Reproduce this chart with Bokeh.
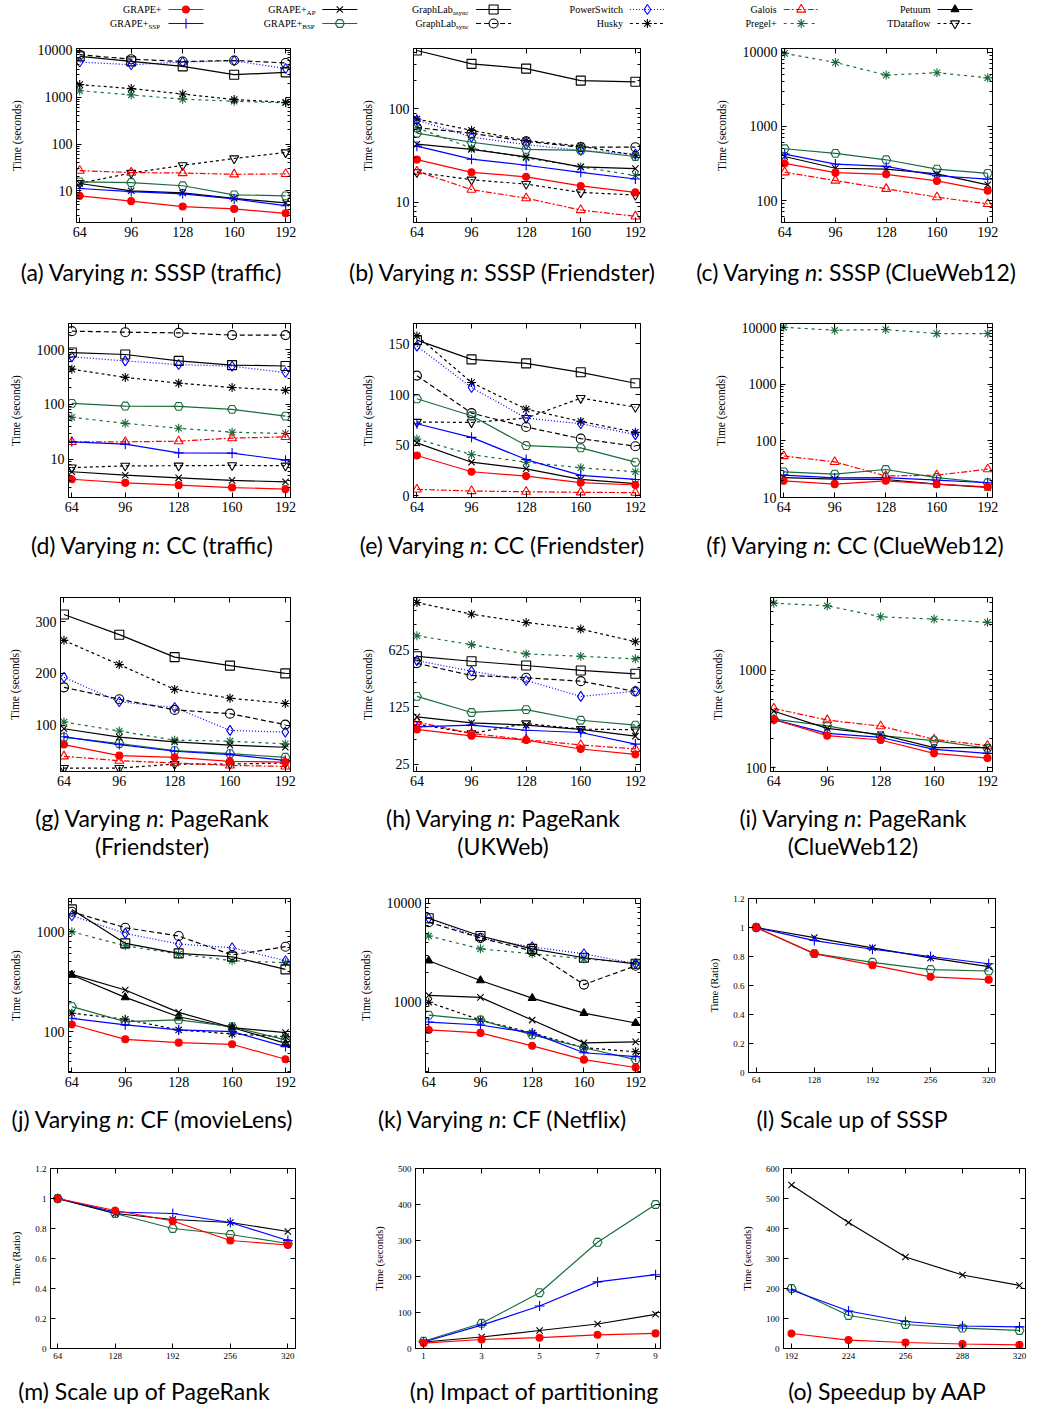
import math
from bokeh.plotting import figure
from bokeh.layouts import column, row
from bokeh.models import Range1d, FixedTicker, LinearAxis, LogAxis, Div, CustomJSTickFormatter
from bokeh.embed import file_html
from bokeh.resources import INLINE
from bokeh.core.properties import value

# ---------------- data ----------------
X_N = [64, 96, 128, 160, 192]
X_SCALE = [64, 128, 192, 256, 320]
X_PART = [1, 3, 5, 7, 9]
X_AAP = [192, 224, 256, 288, 320]

SSSP_TRAFFIC = {
    "GRAPE+": [7.8, 6.0, 4.6, 4.1, 3.3],
    "GRAPE+SSP": [11.2, 9.6, 8.6, 6.7, 4.8],
    "GRAPE+AP": [14.3, 10.0, 9.0, 6.9, 5.5],
    "GRAPE+BSP": [15.5, 15.0, 12.8, 8.2, 7.8],
    "GraphLab_async": [7450, 5840, 4570, 3030, 3400],
    "GraphLab_sync": [8100, 6500, 5800, 6100, 5400],
    "PowerSwitch": [5650, 4950, 5650, 6000, 4100],
    "Husky": [1860, 1530, 1170, 890, 780],
    "Galois": [27, 24.5, 24, 22.5, 23],
    "Pregel+": [1380, 1120, 910, 820, 760],
    "TDataflow": [14.5, 24, 35, 49, 66],
}
SSSP_FRIENDSTER = {
    "GRAPE+": [28.7, 21, 18.8, 15, 12.8],
    "GRAPE+SSP": [40, 29, 25, 21, 17.8],
    "GRAPE+AP": [42, 37, 30.7, 24, 23],
    "GRAPE+BSP": [55, 44, 37, 36, 31],
    "GraphLab_async": [422, 303, 270, 201, 195],
    "GraphLab_sync": [63, 55, 45, 39, 39],
    "PowerSwitch": [76, 50, 41.5, 36, 33],
    "Husky": [78, 59, 46, 40, 32],
    "Galois": [21.5, 13.7, 11.1, 8.3, 7.1],
    "Pregel+": [63, 38, 30, 24, 19.4],
    "TDataflow": [21, 17.5, 15.7, 12.8, 12],
}
SSSP_CLUEWEB = {
    "GRAPE+": [318, 238, 226, 184, 136],
    "GRAPE+SSP": [424, 311, 289, 216, 194],
    "GRAPE+AP": [393, 273, 265, 229, 163],
    "GRAPE+BSP": [500, 433, 355, 265, 233],
    "Galois": [241, 186, 144, 111, 90],
    "Pregel+": [9700, 7330, 4940, 5320, 4540],
}
CC_TRAFFIC = {
    "GRAPE+": [4.3, 3.7, 3.36, 3.04, 2.84],
    "GRAPE+SSP": [20.7, 18.8, 13, 12.9, 9.6],
    "GRAPE+AP": [5.9, 5.1, 4.57, 4.1, 3.86],
    "GRAPE+BSP": [104, 93, 92, 81, 61],
    "GraphLab_async": [880, 810, 620, 520, 500],
    "GraphLab_sync": [2160, 2070, 2010, 1830, 1830],
    "PowerSwitch": [735, 620, 532, 496, 380],
    "Husky": [438, 310, 243, 203, 180],
    "Galois": [20.7, 20.7, 21.3, 24.2, 25.5],
    "Pregel+": [58, 45, 36.6, 31, 29.4],
    "TDataflow": [7.0, 7.55, 7.6, 7.7, 7.6],
}
CC_FRIENDSTER = {
    "GRAPE+": [39.9, 23.9, 19.6, 13.1, 10.8],
    "GRAPE+SSP": [71.2, 57.8, 35.9, 20.3, 16.3],
    "GRAPE+AP": [52.3, 33.3, 26.8, 16.3, 12.1],
    "GRAPE+BSP": [95.8, 79.1, 49.7, 47.4, 33.3],
    "GraphLab_async": [153.6, 134.6, 130.7, 121.9, 111.1],
    "GraphLab_sync": [118.6, 81.7, 68, 56.5, 49],
    "PowerSwitch": [147.7, 106.9, 76.8, 71.2, 60.5],
    "Husky": [157.8, 111.8, 85.6, 73.5, 62.7],
    "Galois": [6.5, 4.9, 4.2, 3.6, 3.3],
    "Pregel+": [56.2, 40.8, 33.3, 27.8, 23.9],
    "TDataflow": [72.9, 72.5, 76.8, 96.4, 87.6],
}
CC_CLUEWEB = {
    "GRAPE+": [19.7, 17.2, 19.7, 17.2, 15.4],
    "GRAPE+SSP": [24.8, 22.2, 22.5, 20.2, 18.2],
    "GRAPE+AP": [22.5, 21.1, 20.8, 17.2, 15],
    "GRAPE+BSP": [28.4, 25.8, 31.2, 22.5, 18.2],
    "Galois": [54, 42.6, 24, 24.8, 31.6],
    "Pregel+": [10100, 8980, 9230, 7840, 7840],
}
PR_FRIENDSTER = {
    "GRAPE+": [62.2, 40.7, 37.5, 29.6, 28.3],
    "GRAPE+SSP": [77.2, 62.2, 49.2, 42.7, 31.6],
    "GRAPE+AP": [92.8, 76.5, 67.4, 61, 57],
    "GRAPE+BSP": [76.5, 64.2, 50.5, 44.6, 37.5],
    "GraphLab_async": [314, 275, 231.6, 215, 200],
    "GraphLab_sync": [173, 150, 129.3, 122, 100.7],
    "PowerSwitch": [192.5, 145, 134, 89.6, 86.3],
    "Husky": [264, 217, 169, 152, 141.7],
    "Galois": [39.4, 31, 26.4, 21.8, 19.9],
    "Pregel+": [105.9, 88.3, 70.7, 68.7, 63.5],
    "TDataflow": [16.6, 16.6, 24.4, 24.4, 26.4],
}
PR_UKWEB = {
    "GRAPE+": [66.4, 55.6, 49.3, 38.4, 33],
    "GRAPE+SSP": [71.5, 75, 65, 61, 44],
    "GRAPE+AP": [94.5, 80, 75, 66.4, 55],
    "GRAPE+BSP": [168, 107, 116, 86, 75],
    "GraphLab_async": [518, 451, 400, 348, 317],
    "GraphLab_sync": [426, 302, 284, 258, 193],
    "PowerSwitch": [459, 341, 263, 168, 195],
    "Husky": [2342, 1690, 1340, 1112, 781],
    "Galois": [82, 59.4, 50, 43, 38.4],
    "Pregel+": [923, 718, 554, 518, 482],
    "TDataflow": [77, 59.4, 78.5, 67, 66],
}
PR_CLUEWEB = {
    "GRAPE+": [312, 213, 192, 140, 125],
    "GRAPE+SSP": [312, 225, 204, 154, 140],
    "GRAPE+AP": [380, 253, 219, 160, 160],
    "GRAPE+BSP": [315, 269, 213, 189, 158],
    "Galois": [406, 308, 267, 195, 168],
    "Pregel+": [4930, 4630, 3570, 3380, 3130],
}
CF_MOVIELENS = {
    "GRAPE+": [118, 83.8, 77.6, 74.7, 52.9],
    "GRAPE+SSP": [136, 117, 104, 100, 70.8],
    "GRAPE+AP": [374, 261, 156, 110, 97.7],
    "GRAPE+BSP": [178, 126, 131, 112, 82.6],
    "GraphLab_async": [1672, 765, 607, 562, 420],
    "GraphLab_sync": [1585, 1096, 905, 585, 708],
    "PowerSwitch": [1445, 962, 753, 692, 513],
    "Husky": [153, 133, 104, 94.8, 89],
    "Pregel+": [1000, 724, 598, 513, 490],
    "Petuum": [369, 220, 141, 110, 76.4],
}
CF_NETFLIX = {
    "GRAPE+": [525, 490, 363, 263, 219],
    "GRAPE+SSP": [631, 589, 490, 309, 282],
    "GRAPE+AP": [1175, 1120, 661, 389, 398],
    "GRAPE+BSP": [741, 661, 468, 347, 263],
    "GraphLab_async": [7080, 4680, 3470, 2820, 2450],
    "GraphLab_sync": [6460, 4470, 3310, 1510, 2340],
    "PowerSwitch": [7080, 4470, 3630, 3090, 2450],
    "Husky": [1000, 661, 490, 347, 316],
    "Pregel+": [4680, 3470, 3090, 2750, 2510],
    "Petuum": [2630, 1660, 1100, 776, 617],
}
SCALE_SSSP = {
    "GRAPE+": [1, 0.82, 0.74, 0.66, 0.64],
    "GRAPE+SSP": [1, 0.91, 0.85, 0.80, 0.75],
    "GRAPE+AP": [1, 0.93, 0.86, 0.79, 0.73],
    "GRAPE+BSP": [1, 0.82, 0.76, 0.71, 0.70],
}
SCALE_PR = {
    "GRAPE+": [1, 0.92, 0.85, 0.72, 0.69],
    "GRAPE+SSP": [1, 0.91, 0.90, 0.84, 0.72],
    "GRAPE+AP": [1, 0.90, 0.86, 0.84, 0.78],
    "GRAPE+BSP": [1, 0.90, 0.80, 0.76, 0.70],
}
PARTITION = {
    "GRAPE+": [15, 25, 30, 38, 42],
    "GRAPE+SSP": [18, 65, 118, 185, 205],
    "GRAPE+AP": [18, 32, 50, 68, 95],
    "GRAPE+BSP": [20, 70, 155, 295, 400],
}
SPEEDUP = {
    "GRAPE+": [50, 28, 20, 15, 12],
    "GRAPE+SSP": [195, 125, 90, 75, 72],
    "GRAPE+AP": [545, 420, 305, 245, 210],
    "GRAPE+BSP": [200, 110, 80, 68, 60],
}

YT_A = [10, 100, 1000, 10000]
YT_B = [10, 100]
YT_C = [100, 1000, 10000]
YT_D = [10, 100, 1000]
YT_E = [0, 50, 100, 150]
YT_F = [10, 100, 1000, 10000]
YT_G = [100, 200, 300]
YT_H = [25, 125, 625]
YT_I = [100, 1000]
YT_J = [100, 1000]
YT_K = [1000, 10000]
YT_RATIO = [0, 0.2, 0.4, 0.6, 0.8, 1, 1.2]
YT_N = [0, 100, 200, 300, 400, 500]
YT_O = [0, 100, 200, 300, 400, 500, 600]

# legend entries: (key, main text, subscript)
LEGEND = [
    [("GRAPE+", "GRAPE+", ""), ("GRAPE+SSP", "GRAPE+", "SSP")],
    [("GRAPE+AP", "GRAPE+", "AP"), ("GRAPE+BSP", "GRAPE+", "BSP")],
    [("GraphLab_async", "GraphLab", "async"), ("GraphLab_sync", "GraphLab", "sync")],
    [("PowerSwitch", "PowerSwitch", ""), ("Husky", "Husky", "")],
    [("Galois", "Galois", ""), ("Pregel+", "Pregel+", "")],
    [("Petuum", "Petuum", ""), ("TDataflow", "TDataflow", "")],
]

# ---------------- styles ----------------
RED, BLUE, GREEN, BLACK = "#ff0000", "#0000ff", "#1a6b3c", "#000000"
STYLE = {
    "GRAPE+": dict(color=RED, dash="solid", marker="circle", fill=True, size=7),
    "GRAPE+SSP": dict(color=BLUE, dash="solid", marker="cross", fill=False, size=10),
    "GRAPE+AP": dict(color=BLACK, dash="solid", marker="x", fill=False, size=9),
    "GRAPE+BSP": dict(color=GREEN, dash="solid", marker="hex", fill=False, size=9),
    "GraphLab_async": dict(color=BLACK, dash="solid", marker="square", fill=False, size=9),
    "GraphLab_sync": dict(color=BLACK, dash="5 3", marker="circle", fill=False, size=9),
    "PowerSwitch": dict(color=BLUE, dash="1 2", marker="diamond", fill=False, size=10),
    "Husky": dict(color=BLACK, dash="3 3", marker="asterisk", fill=False, size=9),
    "Galois": dict(color=RED, dash="6 2 2 2", marker="triangle", fill=False, size=9),
    "Pregel+": dict(color=GREEN, dash="3 4", marker="asterisk", fill=False, size=9),
    "Petuum": dict(color=BLACK, dash="solid", marker="triangle", fill=True, size=8),
    "TDataflow": dict(color=BLACK, dash="3 3", marker="inverted_triangle", fill=False, size=9),
}
DRAW_ORDER = ["Pregel+", "Husky", "TDataflow", "Galois", "PowerSwitch", "GraphLab_sync",
              "GraphLab_async", "Petuum", "GRAPE+BSP", "GRAPE+AP", "GRAPE+SSP", "GRAPE+"]

TICK_FONT = "Liberation Serif"
COL_W = [349, 341, 349]
COL_LEFT = [0, 349, 690]


def minor_ticks(lo, hi, base):
    out = []
    k = math.floor(math.log(lo, base)) - 1
    while base ** k <= hi:
        for m in range(2, base):
            v = m * base ** k
            if lo <= v <= hi:
                out.append(v)
        k += 1
    return out


def style_axis(ax, fs, lfs, hidden=False):
    ax.axis_line_color = "black"
    ax.major_tick_in = 5
    ax.major_tick_out = 0
    ax.minor_tick_in = 3
    ax.minor_tick_out = 0
    ax.major_tick_line_color = "black"
    ax.minor_tick_line_color = "black"
    ax.major_label_text_font = TICK_FONT
    ax.major_label_text_font_size = fs
    ax.major_label_text_color = "black"
    ax.major_label_standoff = 0 if hidden else 4
    ax.axis_label_text_font = TICK_FONT
    ax.axis_label_text_font_style = "normal"
    ax.axis_label_text_font_size = lfs
    ax.axis_label_text_color = "black"
    ax.axis_label_standoff = 12


def make_panel(series, xs, xr, yr, yticks, col, log=False, base=10, ml=60, mr=50,
               h=210, mt=8, mb=28, small=False, ylabel="Time (seconds)"):
    p = figure(width=COL_W[col], height=h, x_range=Range1d(*xr), y_range=Range1d(*yr),
               y_axis_type="log" if log else "linear", output_backend="svg",
               toolbar_location=None, min_border_left=ml, min_border_right=mr,
               min_border_top=mt, min_border_bottom=mb)
    p.grid.visible = False
    p.outline_line_color = "black"
    p.outline_line_width = 1
    p.outline_line_alpha = 1
    fs = "9px" if small else "14px"
    lfs = "10.5px" if small else "11.5px"
    fmt = CustomJSTickFormatter(code="return String(tick)")
    minors = minor_ticks(yr[0], yr[1], base) if log else []

    xa = p.xaxis[0]
    xa.ticker = FixedTicker(ticks=xs)
    xa.formatter = fmt
    style_axis(xa, fs, lfs)
    ya = p.yaxis[0]
    ya.ticker = FixedTicker(ticks=yticks, minor_ticks=minors)
    ya.formatter = fmt
    ya.axis_label = ylabel
    style_axis(ya, fs, lfs)
    if small:
        ya.axis_label_standoff = 10

    blank = CustomJSTickFormatter(code="return ''")
    ra = (LogAxis if log else LinearAxis)(ticker=FixedTicker(ticks=yticks, minor_ticks=minors),
                                           formatter=blank)
    style_axis(ra, "1px", lfs, hidden=True)
    p.add_layout(ra, "right")
    ta = LinearAxis(ticker=FixedTicker(ticks=xs), formatter=blank)
    style_axis(ta, "1px", lfs, hidden=True)
    p.add_layout(ta, "above")

    for name in DRAW_ORDER:
        if name not in series:
            continue
        st = STYLE[name]
        ys = series[name]
        p.line(xs, ys, line_color=st["color"], line_width=1.2, line_dash=st["dash"])
        p.scatter(xs, ys, marker=st["marker"], size=st["size"], line_color=st["color"],
                  fill_color=st["color"] if st["fill"] else None, line_width=1.1)
    return p


def caption(lines, center, col, height, pad):
    w = COL_W[col]
    shift = center - (COL_LEFT[col] + w / 2)
    pl = max(0, 2 * shift)
    pr = max(0, -2 * shift)
    html = ('<div style="width:%dpx;height:%dpx;box-sizing:border-box;padding:%dpx %dpx 0 %dpx;'
            'text-align:center;font-family:Lato;font-size:23px;line-height:28px;color:#000;'
            'overflow:hidden;white-space:nowrap">%s</div>'
            % (w, height, pad, pr, pl, "<br>".join(lines)))
    return Div(text=html, width=w, height=height, margin=0)


# ---------------- legend ----------------
leg = figure(width=1039, height=40, x_range=Range1d(0, 1039), y_range=Range1d(40, 0),
             output_backend="svg", toolbar_location=None, min_border=0,
             x_axis_location=None, y_axis_location=None)
leg.grid.visible = False
leg.outline_line_color = None
LEG_X0, LEG_DX, LEG_LEN = 168, 153.8, 35
LEG_ROWS = [9, 23]


def sub_width(s):
    return sum(7 * (0.62 if ch.isupper() else 0.47) for ch in s)


for c, col_entries in enumerate(LEGEND):
    x0 = LEG_X0 + c * LEG_DX
    for r, (key, main, sub) in enumerate(col_entries):
        y = LEG_ROWS[r]
        st = STYLE[key]
        leg.line([x0, x0 + LEG_LEN], [y, y], line_color=st["color"], line_width=1.2,
                 line_dash=st["dash"])
        leg.scatter([x0 + LEG_LEN / 2], [y], marker=st["marker"], size=st["size"],
                    line_color=st["color"], fill_color=st["color"] if st["fill"] else None,
                    line_width=1.1)
        xend = x0 - 7
        sw = sub_width(sub) if sub else 0
        leg.text([xend - sw], [y], text=[main], text_align="right", text_baseline="middle",
                 text_font=value(TICK_FONT), text_font_size="10px", text_color="black")
        if sub:
            leg.text([xend - sw], [y + 3], text=[sub], text_align="left",
                     text_baseline="middle", text_font=value(TICK_FONT),
                     text_font_size="7px", text_color="black")

# ---------------- panels ----------------
XR_N = (62, 195)
rows_spec = [
    dict(panels=[
        dict(series=SSSP_TRAFFIC, xs=X_N, xr=XR_N, yr=(2.1, 11000), yticks=YT_A, log=True, ml=76, mr=59),
        dict(series=SSSP_FRIENDSTER, xs=X_N, xr=XR_N, yr=(6.1, 443), yticks=YT_B, log=True, ml=64, mr=50),
        dict(series=SSSP_CLUEWEB, xs=X_N, xr=XR_N, yr=(50.5, 11300), yticks=YT_C, log=True, ml=91, mr=47),
    ], caps=[["(a) Varying <i>n</i>: SSSP (traffic)"], ["(b) Varying <i>n</i>: SSSP (Friendster)"],
             ["(c) Varying <i>n</i>: SSSP (ClueWeb12)"]], centers=[151, 502, 856], ch=65, pad=8),
    dict(panels=[
        dict(series=CC_TRAFFIC, xs=X_N, xr=XR_N, yr=(2.0, 2980), yticks=YT_D, log=True, ml=68, mr=59),
        dict(series=CC_FRIENDSTER, xs=X_N, xr=XR_N, yr=(-1.5, 170), yticks=YT_E, ml=64, mr=50),
        dict(series=CC_CLUEWEB, xs=X_N, xr=XR_N, yr=(10, 11800), yticks=YT_F, log=True, ml=90, mr=47),
    ], caps=[["(d) Varying <i>n</i>: CC (traffic)"], ["(e) Varying <i>n</i>: CC (Friendster)"],
             ["(f) Varying <i>n</i>: CC (ClueWeb12)"]], centers=[152, 502, 855], ch=64, pad=6),
    dict(panels=[
        dict(series=PR_FRIENDSTER, xs=X_N, xr=XR_N, yr=(10, 347), yticks=YT_G, ml=60, mr=59),
        dict(series=PR_UKWEB, xs=X_N, xr=XR_N, yr=(20.4, 2700), yticks=YT_H, log=True, base=5, ml=64, mr=50),
        dict(series=PR_CLUEWEB, xs=X_N, xr=XR_N, yr=(91, 5640), yticks=YT_I, log=True, ml=80, mr=47),
    ], caps=[["(g) Varying <i>n</i>: PageRank", "(Friendster)"],
             ["(h) Varying <i>n</i>: PageRank", "(UKWeb)"],
             ["(i) Varying <i>n</i>: PageRank", "(ClueWeb12)"]], centers=[152, 503, 853], ch=91, pad=5),
    dict(panels=[
        dict(series=CF_MOVIELENS, xs=X_N, xr=XR_N, yr=(39, 2150), yticks=YT_J, log=True, ml=68, mr=59),
        dict(series=CF_NETFLIX, xs=X_N, xr=XR_N, yr=(195, 11200), yticks=YT_K, log=True, ml=76, mr=50),
        dict(series=SCALE_SSSP, xs=X_SCALE, xr=(55.5, 327.5), yr=(0, 1.2), yticks=YT_RATIO, ml=58, mr=44,
             small=True, ylabel="Time (Ratio)"),
    ], caps=[["(j) Varying <i>n</i>: CF (movieLens)"], ["(k) Varying <i>n</i>: CF (Netflix)"],
             ["(l) Scale up of SSSP"]], centers=[152, 502, 852], ch=58, pad=5),
    dict(panels=[
        dict(series=SCALE_PR, xs=X_SCALE, xr=(56, 328.5), yr=(0, 1.2), yticks=YT_RATIO, ml=50, mr=54,
             small=True, ylabel="Time (Ratio)", mt=10, mb=20),
        dict(series=PARTITION, xs=X_PART, xr=(0.72, 9.17), yr=(0, 500), yticks=YT_N, ml=66, mr=30,
             small=True, mt=10, mb=20),
        dict(series=SPEEDUP, xs=X_AAP, xr=(187.5, 323.4), yr=(0, 600), yticks=YT_O, ml=93, mr=14,
             small=True, mt=10, mb=20),
    ], caps=[["(m) Scale up of PageRank"], ["(n) Impact of partitioning"], ["(o) Speedup by AAP"]],
        centers=[144, 534, 887], ch=38, pad=9),
]

items = [leg]
for spec in rows_spec:
    figs = [make_panel(col=i, **cfg) for i, cfg in enumerate(spec["panels"])]
    caps = [caption(spec["caps"][i], spec["centers"][i], i, spec["ch"], spec["pad"]) for i in range(3)]
    items.append(row(*figs))
    items.append(row(*caps))

layout = column(*items)
open("out.html", "w").write(file_html(layout, INLINE))
